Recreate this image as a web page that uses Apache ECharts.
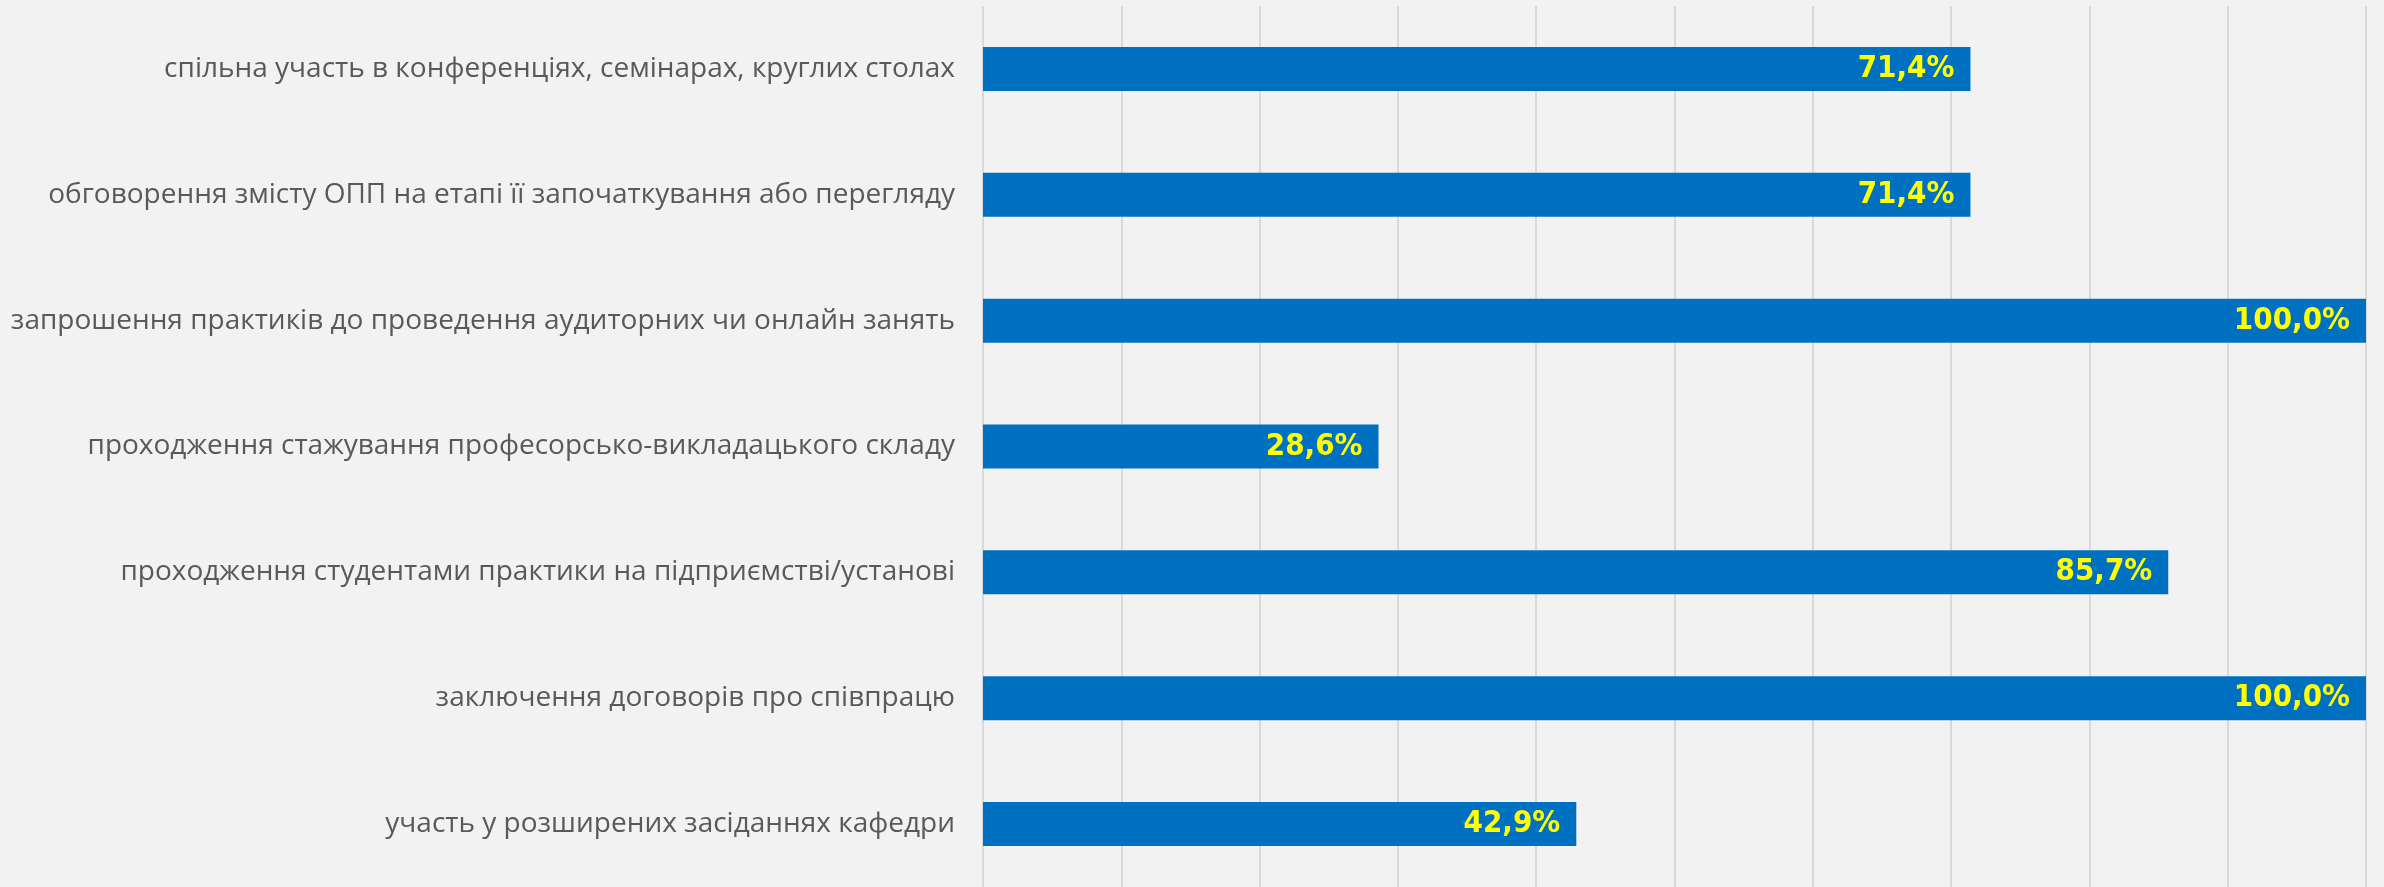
<!DOCTYPE html>
<html style="height: 100%">
<head>
    <meta charset="utf-8">
</head>
<body style="height: 100%; margin: 0; background-color: #f2f2f2;">
<div id="container" style="width: 2384px; height: 887px"></div>
<script type="text/javascript" src="https://cdn.jsdelivr.net/npm/echarts@6/dist/echarts.min.js"></script>
<script type="text/javascript">
    var categories = [
        'спільна участь в конференціях, семінарах, круглих столах',
        'обговорення змісту ОПП на етапі її започаткування або перегляду',
        'запрошення практиків до проведення аудиторних чи онлайн занять',
        'проходження стажування професорсько-викладацького складу',
        'проходження студентами практики на підприємстві/установі',
        'заключення договорів про співпрацю',
        'участь у розширених засіданнях кафедри'
    ];
    var values = [71.4, 71.4, 100.0, 28.6, 85.7, 100.0, 42.9];

    var dom = document.getElementById("container");
    var myChart = echarts.init(dom);

    var option = {
        backgroundColor: '#f2f2f2',
        animation: false,
        grid: {
            left: 983,
            top: 6,
            width: 1383,
            height: 885
        },
        xAxis: {
            type: 'value',
            min: 0,
            max: 100,
            interval: 10,
            axisLabel: {show: false},
            axisLine: {show: false},
            axisTick: {show: false},
            splitLine: {
                lineStyle: {color: '#d9d9d9', width: 2}
            }
        },
        yAxis: {
            type: 'category',
            inverse: true,
            data: categories,
            axisLine: {show: false},
            axisTick: {show: false},
            axisLabel: {
                margin: 28,
                color: '#595959',
                fontFamily: 'Open Sans',
                fontSize: 28
            }
        },
        series: [
            {
                type: 'bar',
                data: values,
                barWidth: 44,
                itemStyle: {color: '#0070c0'},
                label: {
                    show: true,
                    position: 'insideRight',
                    distance: 16,
                    color: '#ffff00',
                    fontFamily: 'DejaVu Sans Condensed',
                    fontWeight: 'bold',
                    fontSize: 31,
                    formatter: function (p) {
                        return p.value.toFixed(1).replace('.', ',') + '%';
                    }
                }
            }
        ]
    };
    myChart.setOption(option);
</script>
</body>
</html>
